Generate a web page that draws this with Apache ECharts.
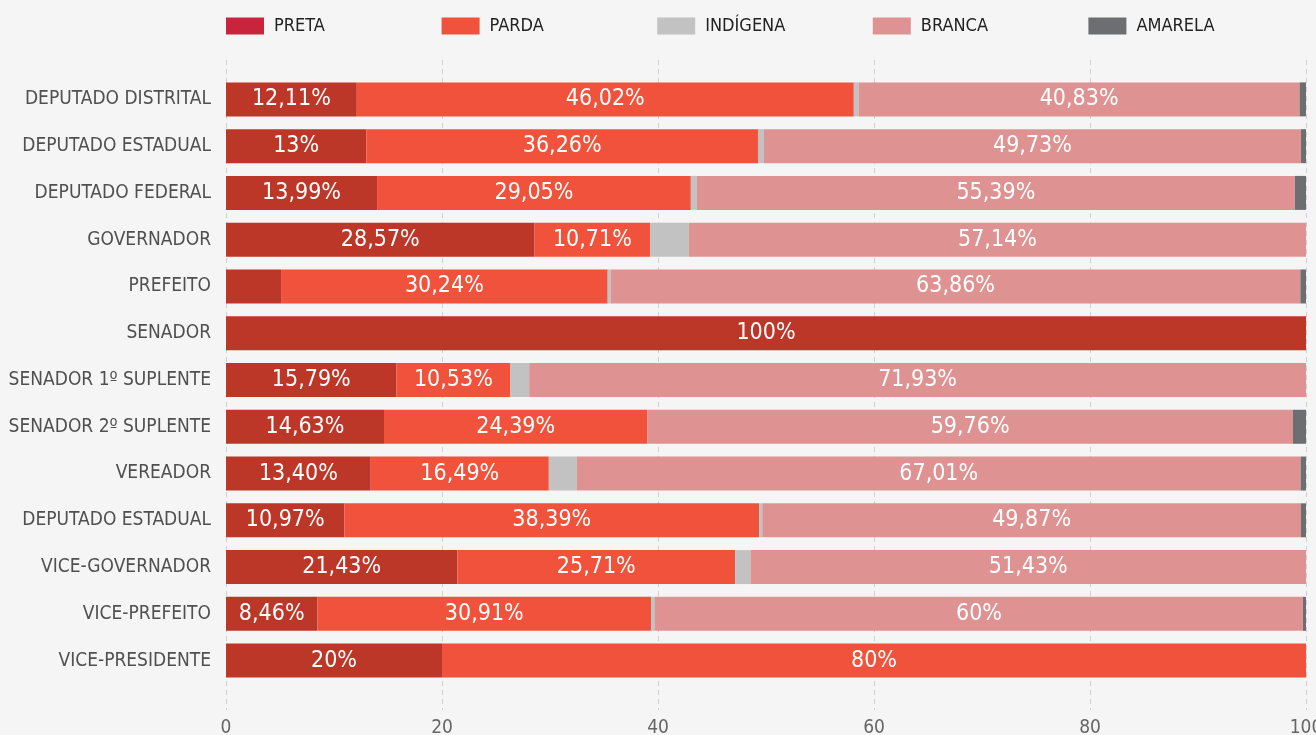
<!DOCTYPE html>
<html><head><meta charset="utf-8">
<script src="https://cdn.jsdelivr.net/npm/echarts@6/dist/echarts.min.js"></script>
<style>html,body{margin:0;padding:0;background:#f5f5f5;}#c{width:1316px;height:735px;}</style>
</head><body><div id="c"></div>
<script>
const categories = ['DEPUTADO DISTRITAL','DEPUTADO ESTADUAL','DEPUTADO FEDERAL','GOVERNADOR','PREFEITO','SENADOR','SENADOR 1º SUPLENTE','SENADOR 2º SUPLENTE','VEREADOR','DEPUTADO ESTADUAL','VICE-GOVERNADOR','VICE-PREFEITO','VICE-PRESIDENTE'];
const preta    = [12.11, 13,    13.99, 28.57, 5.1,   100, 15.79, 14.63, 13.40, 10.97, 21.43, 8.46,  20];
const parda    = [46.02, 36.26, 29.05, 10.71, 30.24, 0,   10.53, 24.39, 16.49, 38.39, 25.71, 30.91, 80];
const indigena = [0.45,  0.55,  0.55,  3.58,  0.28,  0,   1.75,  0,     2.6,   0.3,   1.43,  0.35,  0];
const branca   = [40.83, 49.73, 55.39, 57.14, 63.86, 0,   71.93, 59.76, 67.01, 49.87, 51.43, 60,    0];
const amarela  = [0.59,  0.46,  1.02,  0,     0.52,  0,   0,     1.22,  0.5,   0.47,  0,     0.28,  0];
const xTicks = [0, 20, 40, 60, 80, 100];

const FONT = '"Liberation Sans Narrow","DejaVu Sans Condensed","Roboto",sans-serif';
const legendNames = ['PRETA','PARDA','INDÍGENA','BRANCA','AMARELA'];
const legendColors = ['#c8243c','#f0523c','#c2c2c2','#de9392','#6d6e72'];
const barColors = ['#bd3728','#f0523c','#c2c2c2','#de9392','#6d6e72'];
const seriesData = [preta, parda, indigena, branca, amarela];

const chart = echarts.init(document.getElementById('c'));
const labelFmt = p => {
  const v = p.value;
  if (v < 6) return '';
  const s = Number.isInteger(v) ? String(v) : v.toFixed(2).replace('.', ',');
  return s + '%';
};
const legends = legendNames.map((n, i) => ({
  data: [{name: n, itemStyle: {color: legendColors[i]}}],
  left: 226 + i * 215.6, top: 17, padding: 0,
  itemWidth: 38, itemHeight: 17, itemGap: 10,
  icon: 'rect',
  textStyle: {fontFamily: FONT, fontSize: 18, color: '#222', padding: [0, 0, 0, 5]},
  selectedMode: false
}));
chart.setOption({
  backgroundColor: '#f5f5f5',
  animation: false,
  legend: legends,
  grid: [
    {left: 226, right: 10, top: 76, bottom: 51, containLabel: false, outerBoundsMode: 'none'},
    {left: 226, right: 10, top: 60, bottom: 25, containLabel: false, outerBoundsMode: 'none'}
  ],
  xAxis: [
    {gridIndex: 0, type: 'value', min: 0, max: 100, interval: 20, show: false},
    {gridIndex: 1, type: 'value', min: xTicks[0], max: xTicks[xTicks.length-1], interval: 20,
     axisLine: {show: false}, axisTick: {show: false},
     splitLine: {show: true, lineStyle: {color: '#cfcfcf', type: [5, 4], width: 1}},
     axisLabel: {margin: 9, fontFamily: FONT, fontSize: 19, color: '#666'}}
  ],
  yAxis: [
    {gridIndex: 0, type: 'category', data: categories, inverse: true,
     axisLine: {show: false}, axisTick: {show: false}, splitLine: {show: false},
     axisLabel: {margin: 15, fontFamily: FONT, fontSize: 19, color: '#505050'}},
    {gridIndex: 1, type: 'value', show: false, min: 0, max: 1}
  ],
  series: legendNames.map((n, i) => ({
    name: n, type: 'bar', stack: 'total', xAxisIndex: 0, yAxisIndex: 0,
    barWidth: 34,
    data: seriesData[i],
    itemStyle: {color: barColors[i]},
    label: {show: true, position: 'inside', formatter: labelFmt,
            fontFamily: FONT, fontSize: 23, color: '#fff'},
    emphasis: {disabled: true}
  }))
});
</script></body></html>
